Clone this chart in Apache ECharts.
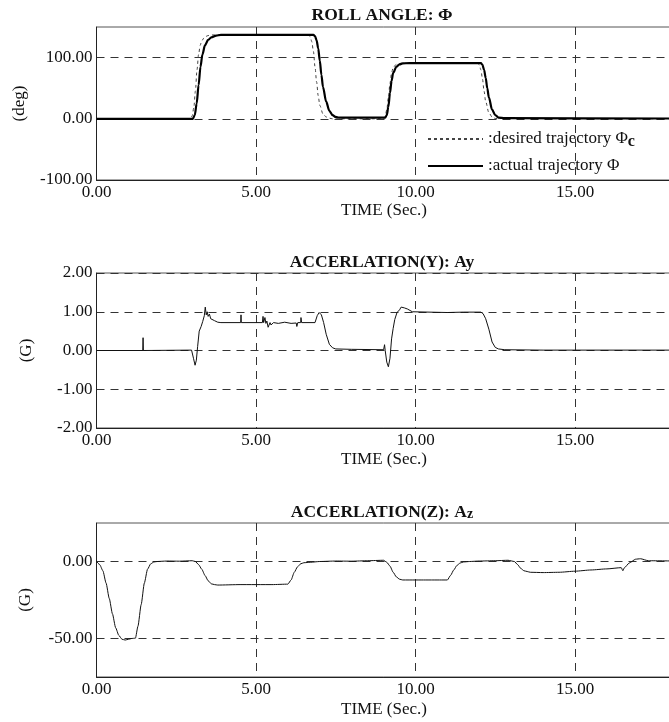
<!DOCTYPE html>
<html><head><meta charset="utf-8">
<script src="https://cdn.jsdelivr.net/npm/echarts@6/dist/echarts.min.js"></script>
<style>html,body{margin:0;padding:0;background:#fff}#c{width:669px;height:722px}</style>
</head><body><div id="c"></div>
<script>
// ---- data ----
const timeTicks = [0, 5, 10, 15, 20];
const rollTicks = [-100, 0, 100];
const ayTicks = [-2, -1, 0, 1, 2];
const azTicks = [-50, 0];

const rollDesiredT = [0, 2.95, 3.0, 3.05, 3.1, 3.15, 3.2, 3.25, 3.3, 3.4, 3.5, 3.6, 3.7, 6.65, 6.7, 6.75, 6.8, 6.85, 6.9, 6.95, 7.0, 7.1, 7.2, 7.3, 7.4, 9.0, 9.05, 9.1, 9.15, 9.2, 9.25, 9.3, 9.4, 9.5, 9.6, 11.95, 12.0, 12.05, 12.1, 12.15, 12.2, 12.3, 12.4, 12.5, 18.2];
const rollDesired  = [0, 0, 5, 18, 45, 80, 105, 120, 128, 134, 136, 137, 137, 137, 134, 126, 110, 85, 60, 38, 22, 8, 3, 1, 0, 0, 4, 15, 35, 58, 75, 84, 89, 90, 91, 91, 88, 80, 65, 45, 28, 10, 3, 0.5, 0];

const rollActualT = [0, 3.02, 3.08, 3.14, 3.2, 3.26, 3.32, 3.4, 3.5, 3.6, 3.75, 3.9, 6.8, 6.85, 6.9, 6.95, 7.0, 7.05, 7.1, 7.2, 7.3, 7.4, 7.5, 7.6, 8.0, 8.5, 9.05, 9.1, 9.15, 9.2, 9.25, 9.3, 9.4, 9.5, 9.6, 9.8, 12.05, 12.1, 12.15, 12.2, 12.25, 12.3, 12.4, 12.5, 12.6, 12.8, 18.2];
const rollActual  = [0, 0, 6, 25, 55, 85, 105, 120, 129, 133, 136, 137, 137, 135, 128, 115, 95, 72, 52, 28, 13, 6, 3, 2, 2, 2, 2, 6, 20, 42, 62, 75, 85, 89, 90.5, 91, 91, 88, 80, 67, 50, 35, 15, 6, 2, 1, 0.5];

const ayT = [0, 1.45, 1.46, 1.47, 2.98, 3.04, 3.09, 3.13, 3.17, 3.22, 3.28, 3.33, 3.38, 3.41, 3.44, 3.47, 3.5, 3.54, 3.58, 3.63, 3.7, 3.8, 3.9, 4.52, 4.53, 4.54, 5.2, 5.22, 5.24, 5.28, 5.31, 5.34, 5.38, 5.42, 5.44, 5.47, 5.55, 5.7, 5.9, 6.1, 6.26, 6.28, 6.31, 6.4, 6.41, 6.43, 6.85, 6.92, 6.98, 7.05, 7.12, 7.2, 7.3, 7.4, 7.5, 8.0, 9.0, 9.03, 9.05, 9.1, 9.15, 9.2, 9.25, 9.3, 9.35, 9.42, 9.5, 9.55, 9.6, 9.65, 9.7, 9.75, 9.8, 9.9, 11.0, 11.5, 12.05, 12.12, 12.2, 12.3, 12.4, 12.5, 12.6, 12.8, 14.0, 18.2];
const ay  = [0, 0, 0.33, 0, 0.01, -0.2, -0.38, -0.25, 0.1, 0.5, 0.62, 0.75, 0.9, 1.12, 0.92, 1.0, 0.88, 0.94, 0.82, 0.86, 0.77, 0.73, 0.72, 0.72, 0.92, 0.72, 0.72, 0.88, 0.72, 0.85, 0.7, 0.76, 0.6, 0.55, 0.72, 0.66, 0.72, 0.7, 0.73, 0.7, 0.71, 0.62, 0.72, 0.72, 0.85, 0.72, 0.72, 0.9, 0.98, 0.92, 0.72, 0.42, 0.16, 0.07, 0.04, 0.03, 0.02, 0.15, 0, -0.3, -0.42, -0.2, 0.3, 0.57, 0.8, 0.98, 1.05, 1.12, 1.07, 1.1, 1.05, 1.07, 1.02, 1.0, 0.98, 0.99, 0.99, 0.95, 0.82, 0.55, 0.22, 0.08, 0.04, 0.02, 0.01, 0.01];

const azT = [0, 0.1, 0.2, 0.3, 0.4, 0.5, 0.6, 0.7, 0.8, 0.9, 1.0, 1.1, 1.22, 1.3, 1.4, 1.5, 1.6, 1.7, 1.8, 1.9, 2.2, 2.6, 3.0, 3.1, 3.2, 3.3, 3.4, 3.5, 3.6, 3.7, 3.8, 4.5, 5.5, 6.0, 6.1, 6.2, 6.3, 6.4, 6.5, 6.7, 7.0, 7.5, 8.0, 8.5, 9.0, 9.1, 9.2, 9.3, 9.4, 9.5, 9.6, 10.0, 10.5, 11.0, 11.1, 11.2, 11.3, 11.4, 11.5, 11.7, 12.0, 12.5, 12.9, 13.1, 13.2, 13.3, 13.4, 13.5, 13.6, 14.0, 14.5, 15.0, 15.5, 16.0, 16.45, 16.5, 16.55, 16.7, 16.9, 17.05, 17.3, 18.2];
const az  = [0, -2, -6, -14, -24, -34, -43, -48, -50.5, -51, -50.5, -50, -49.8, -42, -28, -14, -5, -1.5, -0.3, 0, 0.3, 0.2, 0.5, 0, -2, -5, -9, -12.5, -14.5, -15, -15.3, -15, -15, -14.7, -12, -7, -3.5, -1.5, -0.8, -0.5, 0, 0.3, 0.2, 0.5, 0.8, -0.5, -3, -7, -10, -11.5, -12, -12, -12, -12, -9, -5.5, -2.5, -1, -0.3, 0, 0.3, 0.5, 0.8, 0, -2, -4.5, -6, -6.5, -7, -7.2, -7, -6.3, -5.5, -4.8, -4, -6, -4, -1, 1.5, 1.8, 0.5, 0.3];

// ---- layout / style ----
const FONT = '"Liberation Serif","Times New Roman",serif';
const pairs = (t, v) => t.map((x, i) => [x, v[i]]);
const LEFT = 96.5, PLOT_W = 638;
const grids = [
  {left: LEFT, top: 27, width: PLOT_W, height: 153},
  {left: LEFT, top: 273, width: PLOT_W, height: 155},
  {left: LEFT, top: 523, width: PLOT_W, height: 154}
];
const dash = {type: [8, 6], color: '#333', width: 1};

function xAxis(i) {
  return {
    type: 'value', gridIndex: i, min: timeTicks[0], max: timeTicks[timeTicks.length - 1], interval: 5,
    axisLine: {show: true, onZero: false, lineStyle: {color: '#222', width: 1}},
    axisTick: {show: false},
    axisLabel: {formatter: v => v.toFixed(2), fontSize: 17, fontFamily: FONT, color: '#111', margin: 4},
    splitLine: {show: true, lineStyle: dash}
  };
}
function yAxis(i, min, max, ticks) {
  return {
    type: 'value', gridIndex: i, min: min, max: max,
    axisLine: {show: true, onZero: false, lineStyle: {color: '#222', width: 1}},
    axisTick: {show: false, customValues: ticks},
    axisLabel: {formatter: v => v.toFixed(2), fontSize: 17, fontFamily: FONT, color: '#111', margin: 4, customValues: ticks},
    splitLine: {show: true, lineStyle: dash}
  };
}

const chart = echarts.init(document.getElementById('c'), null, {renderer: 'canvas'});
const titleFont = 'bold 17.5px ' + FONT;
const bodyFont = '17px ' + FONT;
const txt = (x, y, style, rot) => ({type: 'text', x: x, y: y, rotation: rot || 0,
  style: Object.assign({fill: '#111', align: 'center', verticalAlign: 'middle', font: bodyFont}, style)});

chart.setOption({
  animation: false,
  backgroundColor: '#fff',
  grid: grids.map(g => Object.assign({show: true, borderColor: '#555', borderWidth: 1, backgroundColor: 'transparent',
    containLabel: false, outerBoundsMode: 'none'}, g)),
  xAxis: [xAxis(0), xAxis(1), xAxis(2)],
  yAxis: [
    yAxis(0, -100, 150, rollTicks),
    yAxis(1, -2, 2, ayTicks),
    yAxis(2, -75, 25, azTicks)
  ],
  legend: {
    orient: 'vertical', left: 427, top: 130.5, padding: 0,
    itemWidth: 55, itemHeight: 14, itemGap: 8,
    itemStyle: {opacity: 0},
    data: ['desired trajectory Φc', 'actual trajectory Φ'],
    formatter: n => n === 'desired trajectory Φc' ? '{t|:desired trajectory Φ}{c|c}' : '{t|:actual trajectory Φ}',
    textStyle: {color: '#111', fontFamily: FONT, fontSize: 17, lineHeight: 17,
      rich: {t: {fontFamily: FONT, fontSize: 17, color: '#111'},
             c: {fontFamily: FONT, fontSize: 16, fontWeight: 'bold', color: '#111', padding: [5, 0, 0, 0]}}}
  },
  series: [
    {name: 'desired trajectory Φc', type: 'line', xAxisIndex: 0, yAxisIndex: 0, symbol: 'none', color: '#444',
     smooth: 0.3, smoothMonotone: 'x', data: pairs(rollDesiredT, rollDesired),
     lineStyle: {color: '#444', width: 1, type: [3, 3]}, z: 3},
    {name: 'actual trajectory Φ', type: 'line', xAxisIndex: 0, yAxisIndex: 0, symbol: 'none', color: '#000',
     smooth: 0.3, smoothMonotone: 'x', data: pairs(rollActualT, rollActual),
     lineStyle: {color: '#000', width: 2.2}, z: 4},
    {name: 'Ay', type: 'line', xAxisIndex: 1, yAxisIndex: 1, symbol: 'none', color: '#111',
     data: pairs(ayT, ay), lineStyle: {color: '#111', width: 1}, z: 4},
    {name: 'Az', type: 'line', xAxisIndex: 2, yAxisIndex: 2, symbol: 'none', color: '#111',
     smooth: 0.2, smoothMonotone: 'x', data: pairs(azT, az), lineStyle: {color: '#111', width: 1}, z: 4}
  ],
  graphic: [
    txt(382, 15, {text: 'ROLL ANGLE: Φ', font: titleFont}),
    txt(382, 262, {text: 'ACCERLATION(Y): Ay', font: titleFont}),
    txt(382, 512, {text: '{a|ACCERLATION(Z): A}{b|z}',
      rich: {a: {fontFamily: FONT, fontSize: 17.5, fontWeight: 'bold', fill: '#111'},
             b: {fontFamily: FONT, fontSize: 14, fontWeight: 'bold', fill: '#111', padding: [4, 0, 0, 0]}}}),
    txt(384, 211, {text: 'TIME (Sec.)'}),
    txt(384, 460, {text: 'TIME (Sec.)'}),
    txt(384, 710, {text: 'TIME (Sec.)'}),
    txt(20, 103.5, {text: '(deg)'}, Math.PI / 2),
    txt(27, 350.5, {text: '(G)'}, Math.PI / 2),
    txt(26, 600, {text: '(G)'}, Math.PI / 2)
  ]
});
</script>
</body></html>
